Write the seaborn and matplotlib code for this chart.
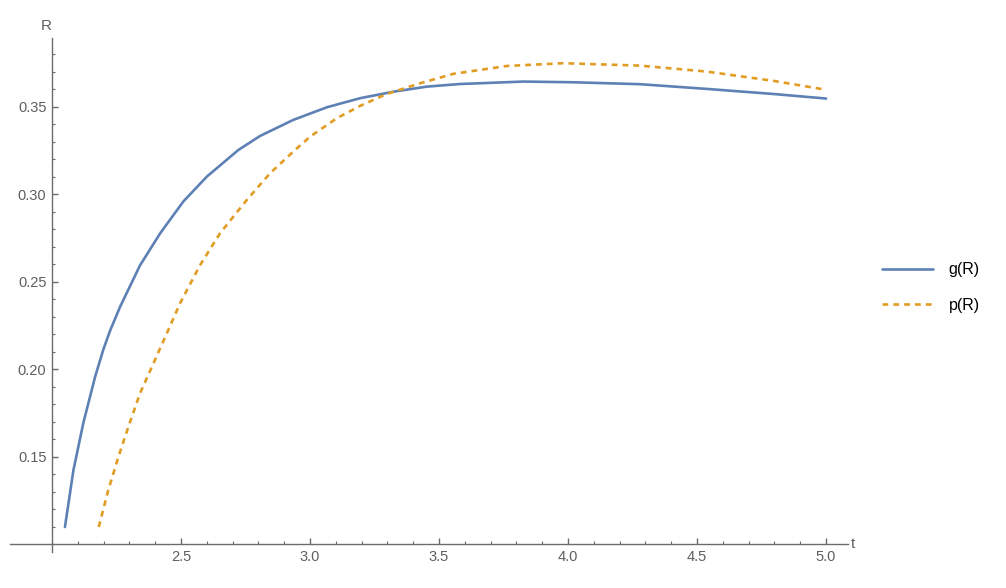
import numpy as np
import pandas as pd
import matplotlib
matplotlib.use("Agg")
import matplotlib.pyplot as plt
import seaborn as sns
from matplotlib.ticker import FixedLocator
from matplotlib.lines import Line2D

# valores
g_t = [2.05, 2.083, 2.121, 2.167, 2.199, 2.225, 2.264, 2.341, 2.419, 2.509, 2.600, 2.722, 2.806,
       2.935, 3.065, 3.194, 3.323, 3.452, 3.581, 3.827, 4.02, 4.279, 4.538, 4.796, 5.0]
g_R = [0.110, 0.1426, 0.1693, 0.1959, 0.2115, 0.2222, 0.2359, 0.2595, 0.2778, 0.296, 0.3102, 0.3254, 0.3334,
       0.3426, 0.3498, 0.355, 0.3587, 0.3616, 0.3631, 0.3645, 0.3641, 0.363, 0.3603, 0.3574, 0.3548]

p_t = [2.181, 2.218, 2.257, 2.296, 2.341, 2.393, 2.445, 2.496, 2.574, 2.651, 2.755, 2.845, 2.935,
       3.0, 3.103, 3.194, 3.297, 3.426, 3.555, 3.762, 3.982, 4.279, 4.538, 4.796, 5.0]
p_R = [0.110, 0.1311, 0.150, 0.1673, 0.1864, 0.2035, 0.2207, 0.2378, 0.2597, 0.2778, 0.2969, 0.3121, 0.3245,
       0.333, 0.3435, 0.3506, 0.3574, 0.3635, 0.3689, 0.3734, 0.375, 0.3736, 0.3702, 0.3649, 0.3598]

x_ticks = [2.5, 3.0, 3.5, 4.0, 4.5, 5.0]
y_ticks = [0.15, 0.20, 0.25, 0.30, 0.35]
series = ['g(R)', 'p(R)']

df = pd.concat([
    pd.DataFrame({'t': g_t, 'R': g_R, 'serie': series[0]}),
    pd.DataFrame({'t': p_t, 'R': p_R, 'serie': series[1]}),
])

sns.set_style("white")
plt.rcParams['font.family'] = ['Liberation Sans', 'DejaVu Sans']

cor_eixo = '#6b6b6b'
cor_texto = '#5f5f5f'
azul = '#5e81b5'
laranja = '#e19c24'
tracos = (2.2, 1.9)

fig = plt.figure(figsize=(10.06, 5.88), dpi=100)
ax = fig.add_axes([0.00994, 0.0612, 0.8330, 0.8742])

sns.lineplot(data=df, x='t', y='R', hue='serie', style='serie',
             palette={series[0]: azul, series[1]: laranja},
             dashes={series[0]: '', series[1]: tracos},
             linewidth=1.9, ax=ax, legend=False, sort=False)

ax.set_xlim(1.837, 5.085)
ax.set_ylim(0.0957, 0.3894)

for s in ['top', 'right']:
    ax.spines[s].set_visible(False)
ax.spines['left'].set_position(('data', 2.0))
ax.spines['bottom'].set_position(('data', 0.10))
for s in ['left', 'bottom']:
    ax.spines[s].set_color(cor_eixo)
    ax.spines[s].set_linewidth(1.0)

ax.xaxis.set_major_locator(FixedLocator(x_ticks))
ax.xaxis.set_minor_locator(FixedLocator([round(2.0 + 0.1 * i, 2) for i in range(31)]))
ax.yaxis.set_major_locator(FixedLocator(y_ticks))
ax.yaxis.set_minor_locator(FixedLocator([round(0.10 + 0.01 * i, 2) for i in range(29)]))
ax.set_xticklabels([f'{v:.1f}' for v in x_ticks])
ax.set_yticklabels([f'{v:.2f}' for v in y_ticks])

ax.tick_params(axis='both', which='both', bottom=True, left=True, top=False, right=False)
ax.tick_params(axis='both', which='major', direction='in', length=4.5, width=1.0,
               color=cor_eixo, labelcolor=cor_texto, labelsize=10.5)
ax.tick_params(axis='both', which='minor', direction='in', length=2.5, width=0.8,
               color=cor_eixo)
ax.tick_params(axis='x', which='major', pad=4)
ax.tick_params(axis='y', which='major', pad=4)

ax.set_xlabel('')
ax.set_ylabel('')
ax.text(5.095, 0.10, 't', fontsize=11, color=cor_texto, ha='left', va='center')
ax.text(1.955, 0.3925, 'R', fontsize=11, color=cor_texto, ha='left', va='bottom',
        clip_on=False)

# legenda ao lado direito
handles = [Line2D([], [], color=azul, linewidth=1.9),
           Line2D([], [], color=laranja, linewidth=1.9, dashes=tracos)]
fig.legend(handles, series, loc='center left', bbox_to_anchor=(0.862, 0.511),
           frameon=False, fontsize=11.5, handlelength=3.2, handletextpad=1.0,
           labelspacing=1.3, labelcolor='black')

fig.savefig('out.png', dpi=100)
